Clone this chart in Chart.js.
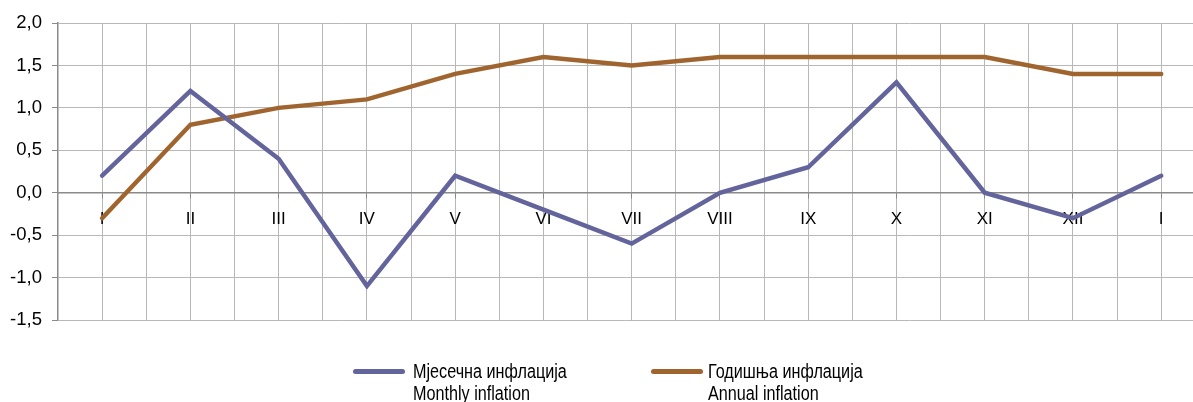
<!DOCTYPE html>
<html>
<head>
<meta charset="utf-8">
<script src="https://cdn.jsdelivr.net/npm/chart.js@4.4.1/dist/chart.umd.min.js"></script>
<style>
  html, body { margin: 0; padding: 0; background: #fff; }
  #wrap { position: relative; width: 1193px; height: 402px; overflow: hidden; }
  #c { position: absolute; left: 0; top: 0; }
  .leg { position: absolute; font-family: "Liberation Sans", Arial, sans-serif; font-size: 19.5px; line-height: 22px; color: #000; }
  .leg .sw { position: absolute; height: 5px; width: 52px; border-radius: 3px; }
  .leg .tx { position: absolute; white-space: nowrap; transform: scaleX(0.83); transform-origin: 0 0; }
</style>
</head>
<body>
<div id="wrap">
  <canvas id="c" width="1193" height="402"></canvas>
  <div class="leg" id="leg1" style="left:353px; top:360px;">
    <div class="sw" style="left:0; top:9px; background:#64649c;"></div>
    <div class="tx" style="left:60px; top:0;">Мјесечна инфлација<br>Monthly inflation</div>
  </div>
  <div class="leg" id="leg2" style="left:651px; top:360px;">
    <div class="sw" style="left:0; top:9px; background:#a0652f;"></div>
    <div class="tx" style="left:57px; top:0;">Годишња инфлација<br>Annual inflation</div>
  </div>
</div>
<script>
const categories = ["I","II","III","IV","V","VI","VII","VIII","IX","X","XI","XII","I"];
const monthlyInflation = [0.2, 1.2, 0.4, -1.1, 0.2, -0.2, -0.6, 0.0, 0.3, 1.3, 0.0, -0.3, 0.2];
const annualInflation = [-0.3, 0.8, 1.0, 1.1, 1.4, 1.6, 1.5, 1.6, 1.6, 1.6, 1.6, 1.4, 1.4];
const yTicks = [-1.5, -1.0, -0.5, 0.0, 0.5, 1.0, 1.5, 2.0];

const toPts = arr => arr.map((v, i) => ({x: i, y: v}));
const FONT = '"Liberation Sans", Arial, sans-serif';

new Chart(document.getElementById('c'), {
  type: 'line',
  data: {
    datasets: [
      { label: 'Мјесечна инфлација', data: toPts(monthlyInflation), borderColor: '#64649c', borderWidth: 4.5, pointRadius: 0, tension: 0, borderCapStyle: 'round', borderJoinStyle: 'miter' },
      { label: 'Годишња инфлација', data: toPts(annualInflation), borderColor: '#a0652f', borderWidth: 4.5, pointRadius: 0, tension: 0, borderCapStyle: 'round', borderJoinStyle: 'miter' }
    ]
  },
  options: {
    responsive: false,
    animation: false,
    layout: { padding: { top: 23, bottom: 82, left: 0, right: 0 } },
    plugins: { legend: { display: false }, tooltip: { enabled: false } },
    scales: {
      x: {
        type: 'linear',
        position: { y: 0 },
        min: -0.5,
        max: 12.36,
        afterBuildTicks: s => {
          const t = [];
          for (let i = 0; i <= 24; i++) t.push({ value: i * 0.5 });
          s.ticks = t;
        },
        afterFit: s => { s.paddingLeft = 0; s.paddingRight = 0; },
        grid: {
          color: '#b8b8b8',
          lineWidth: 1,
          drawTicks: true,
          tickLength: 5,
          tickColor: ctx => (ctx.tick && Number.isInteger(ctx.tick.value)) ? '#888' : 'rgba(0,0,0,0)'
        },
        border: { color: '#8a8a8a', width: 1.5 },
        ticks: {
          autoSkip: false,
          maxRotation: 0,
          padding: 11,
          color: '#000',
          font: { family: FONT, size: 17 },
          callback: v => Number.isInteger(v) ? categories[v] : ''
        }
      },
      y: {
        min: -1.5,
        max: 2.0,
        afterBuildTicks: s => { s.ticks = yTicks.map(v => ({ value: v })); },
        afterFit: s => { s.width = 58; },
        grid: { color: '#b8b8b8', lineWidth: 1, tickLength: 6, tickColor: '#8a8a8a' },
        border: { color: '#8a8a8a', width: 1.5 },
        ticks: {
          color: '#000',
          padding: 10,
          font: { family: FONT, size: 18.5 },
          callback: v => v.toFixed(1).replace('.', ',')
        }
      }
    }
  }
});
</script>
</body>
</html>
